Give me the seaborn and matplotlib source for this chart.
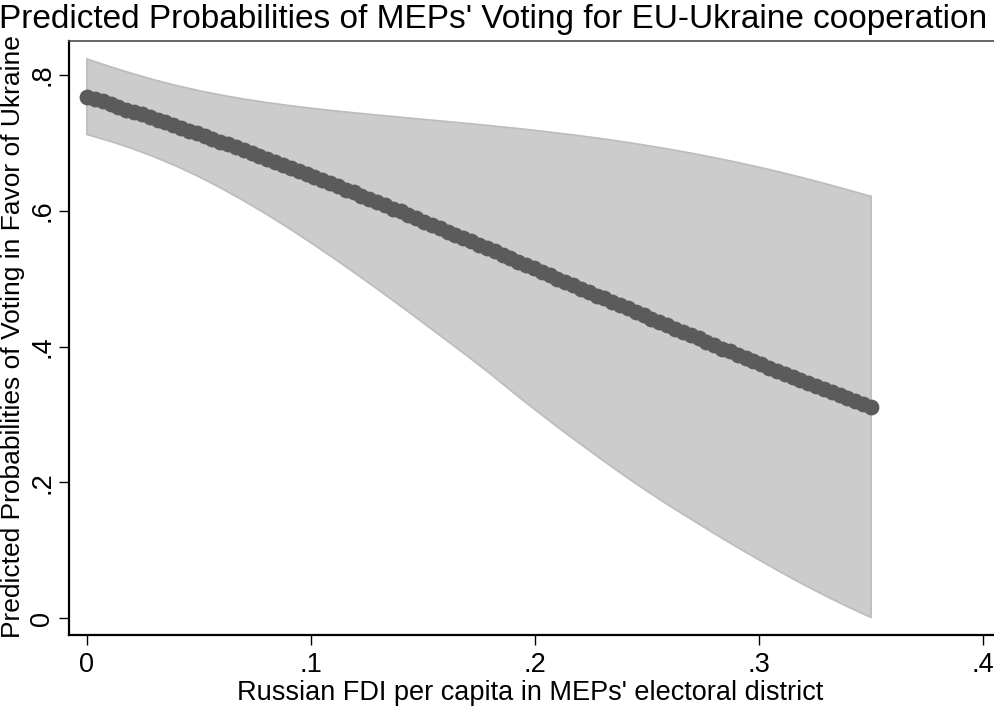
import matplotlib
matplotlib.use("Agg")
import matplotlib.pyplot as plt
import seaborn as sns
import pandas as pd

# Evaluation points for the predicted-probability markers
fdi = [0.0000, 0.0035, 0.0070, 0.0105, 0.0140, 0.0175, 0.0210, 0.0245, 0.0280, 0.0315,
       0.0350, 0.0385, 0.0420, 0.0455, 0.0490, 0.0525, 0.0560, 0.0595, 0.0630, 0.0665,
       0.0700, 0.0735, 0.0770, 0.0805, 0.0840, 0.0875, 0.0910, 0.0945, 0.0980, 0.1015,
       0.1050, 0.1085, 0.1120, 0.1155, 0.1190, 0.1225, 0.1260, 0.1295, 0.1330, 0.1365,
       0.1400, 0.1435, 0.1470, 0.1505, 0.1540, 0.1575, 0.1610, 0.1645, 0.1680, 0.1715,
       0.1750, 0.1785, 0.1820, 0.1855, 0.1890, 0.1925, 0.1960, 0.1995, 0.2030, 0.2065,
       0.2100, 0.2135, 0.2170, 0.2205, 0.2240, 0.2275, 0.2310, 0.2345, 0.2380, 0.2415,
       0.2450, 0.2485, 0.2520, 0.2555, 0.2590, 0.2625, 0.2660, 0.2695, 0.2730, 0.2765,
       0.2800, 0.2835, 0.2870, 0.2905, 0.2940, 0.2975, 0.3010, 0.3045, 0.3080, 0.3115,
       0.3150, 0.3185, 0.3220, 0.3255, 0.3290, 0.3325, 0.3360, 0.3395, 0.3430, 0.3465,
       0.3500]

prob = [0.768, 0.764, 0.761, 0.757, 0.753, 0.749, 0.746, 0.742, 0.738, 0.734,
        0.731, 0.727, 0.722, 0.718, 0.714, 0.710, 0.706, 0.702, 0.698, 0.694,
        0.690, 0.685, 0.681, 0.676, 0.672, 0.668, 0.663, 0.659, 0.654, 0.650,
        0.645, 0.641, 0.636, 0.631, 0.627, 0.622, 0.617, 0.613, 0.608, 0.603,
        0.599, 0.594, 0.589, 0.584, 0.579, 0.574, 0.569, 0.565, 0.560, 0.555,
        0.550, 0.545, 0.540, 0.535, 0.530, 0.525, 0.520, 0.515, 0.510, 0.505,
        0.500, 0.495, 0.490, 0.485, 0.480, 0.475, 0.471, 0.466, 0.461, 0.456,
        0.451, 0.446, 0.441, 0.436, 0.431, 0.426, 0.421, 0.417, 0.412, 0.407,
        0.402, 0.397, 0.393, 0.388, 0.383, 0.379, 0.374, 0.369, 0.364, 0.360,
        0.355, 0.351, 0.346, 0.342, 0.337, 0.333, 0.329, 0.324, 0.320, 0.315,
        0.311]

# 95% confidence band
ci_fdi = [0.00, 0.01, 0.02, 0.03, 0.04, 0.05, 0.06, 0.07, 0.08, 0.09,
          0.10, 0.11, 0.12, 0.13, 0.14, 0.15, 0.16, 0.17, 0.18, 0.19,
          0.20, 0.21, 0.22, 0.23, 0.24, 0.25, 0.26, 0.27, 0.28, 0.29,
          0.30, 0.31, 0.32, 0.33, 0.34, 0.35]
ci_upper = [0.8235, 0.8126, 0.8023, 0.7928, 0.7844, 0.7769, 0.7703, 0.7645, 0.7595, 0.7550,
            0.7510, 0.7473, 0.7440, 0.7408, 0.7377, 0.7346, 0.7316, 0.7285, 0.7253, 0.7219,
            0.7184, 0.7145, 0.7104, 0.7060, 0.7013, 0.6961, 0.6906, 0.6846, 0.6782, 0.6714,
            0.6641, 0.6564, 0.6482, 0.6395, 0.6305, 0.6210]
ci_lower = [0.7124, 0.7028, 0.6919, 0.6795, 0.6656, 0.6501, 0.6331, 0.6147, 0.5952, 0.5745,
            0.5529, 0.5305, 0.5074, 0.4838, 0.4596, 0.4351, 0.4104, 0.3855, 0.3600, 0.3330,
            0.3070, 0.2815, 0.2570, 0.2330, 0.2095, 0.1870, 0.1655, 0.1450, 0.1245, 0.1048,
            0.0857, 0.0670, 0.0491, 0.0321, 0.0160, 0.0008]

x_ticks = [0, 0.1, 0.2, 0.3, 0.4]
x_tick_labels = ["0", ".1", ".2", ".3", ".4"]
y_ticks = [0, 0.2, 0.4, 0.6, 0.8]
y_tick_labels = ["0", ".2", ".4", ".6", ".8"]

title = "Predicted Probabilities of MEPs' Voting for EU-Ukraine cooperation"
x_title = "Russian FDI per capita in MEPs' electoral district"
y_title = "Predicted Probabilities of Voting in Favor of Ukraine"

sns.set_theme(style="white")
plt.rcParams["font.family"] = ["Liberation Sans", "DejaVu Sans"]
plt.rcParams["text.color"] = "black"
plt.rcParams["axes.labelcolor"] = "black"
plt.rcParams["xtick.color"] = "black"
plt.rcParams["ytick.color"] = "black"

points = pd.DataFrame({"fdi": fdi, "prob": prob})
band = pd.DataFrame({"fdi": ci_fdi, "upper": ci_upper, "lower": ci_lower})

W, H = 995, 707
fig = plt.figure(figsize=(W / 100, H / 100), dpi=100)
ax = fig.add_axes([69 / W, 72 / H, (W - 69) / W, (635 - 41) / H])

band_color = "#cccccc"
edge_color = "#bdbdbd"
ax.fill_between(band["fdi"], band["lower"], band["upper"],
                color=band_color, linewidth=0, zorder=1)
sns.lineplot(data=band, x="fdi", y="upper", ax=ax, color=edge_color,
             linewidth=1.3, zorder=2, estimator=None)
sns.lineplot(data=band, x="fdi", y="lower", ax=ax, color=edge_color,
             linewidth=1.3, zorder=2, estimator=None)
ax.plot([ci_fdi[-1], ci_fdi[-1]], [ci_lower[-1], ci_upper[-1]],
        color=edge_color, linewidth=1.3, zorder=2)
ax.plot([ci_fdi[0], ci_fdi[0]], [ci_lower[0], ci_upper[0]],
        color=edge_color, linewidth=1.3, zorder=2)

sns.scatterplot(data=points, x="fdi", y="prob", ax=ax, color="#5b5b5b",
                s=130, linewidth=0, zorder=3, legend=False)

ax.set_xlim(-18 / 2240, (W - 87) / 2240)
ax.set_ylim(-17 / 678.75, (618 - 41) / 678.75)

ax.set_xticks(x_ticks)
ax.set_xticklabels(x_tick_labels)
ax.set_yticks(y_ticks)
ax.set_yticklabels(y_tick_labels, rotation=90, va="center")

ax.tick_params(axis="both", which="major", direction="out", length=7.5,
               width=1.0, color="black", labelcolor="black", labelsize=19.5,
               pad=5, bottom=True, left=True)
ax.tick_params(axis="y", pad=2.5)

for side in ["left", "bottom"]:
    ax.spines[side].set_color("black")
    ax.spines[side].set_linewidth(1.6)
ax.spines["top"].set_color("#4a4a4a")
ax.spines["top"].set_linewidth(1.2)
ax.spines["right"].set_visible(False)

ax.set_xlabel("")
ax.set_ylabel("")
ax.grid(False)

# Axis titles and chart title placed in figure pixels
fig.text(530 / W, 1 - 700 / H, x_title, ha="center", va="baseline",
         fontsize=19.5, color="black")
fig.text(1 / W, 1 - 337 / H, y_title, ha="left", va="center",
         rotation=90, fontsize=19, color="black")
fig.text(0.496, 1 - 28 / H, title, ha="center", va="baseline",
         fontsize=24, color="black")

fig.savefig("out.png", dpi=100)
